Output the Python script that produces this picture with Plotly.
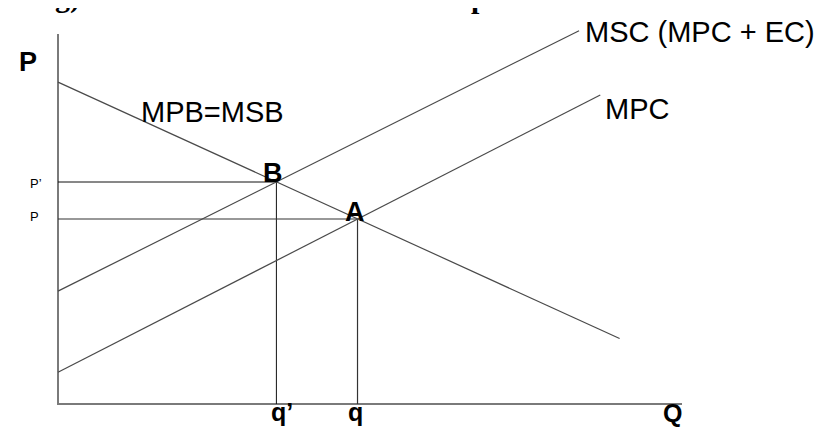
import plotly.graph_objects as go

# ---- data (economic units: Q horizontal, P vertical) ----
q_prime = 35      # q'
q_star = 48       # q
p_prime = 60      # P'
p_star = 50       # P
demand_q = [0, 90]
demand_p = [87, 17.7]
msc_q = [0, 83.5]
msc_p = [30.5, 100.9]
mpc_q = [0, 86.9]
mpc_p = [8.6, 83.5]
axis_q_max = 100
axis_p_max = 100

# ---- layout helpers: pixel <-> data mapping ----
W, H = 822, 428
X0_PX, Y0_PX = 50, 396          # origin in pixels
KX, KY = 6.24, 3.7              # pixels per unit
xr = [(0 - X0_PX) / KX, (W - X0_PX) / KX]
yr = [(Y0_PX - H) / KY, (Y0_PX - 0) / KY]

def X(px):
    return (px - X0_PX) / KX

def Y(py):
    return (Y0_PX - py) / KY

SANS = "Liberation Sans, Arial, sans-serif"
SERIF = "Liberation Serif, Times New Roman, serif"
CURVE = "#4a4a4a"

fig = go.Figure()

def line(xs, ys, color=CURVE, width=1.2):
    fig.add_trace(go.Scatter(x=xs, y=ys, mode="lines", hoverinfo="skip",
                             line=dict(color=color, width=width)))

# axes
line([0, 0, axis_q_max], [axis_p_max, 0, 0], color="#7a7a7a", width=2)
# guides
line([0, q_prime, q_prime], [p_prime, p_prime, 0], color="#111111", width=1)
line([0, q_star, q_star], [p_star, p_star, 0], color="#333333", width=1.2)
# curves
line(demand_q, demand_p)
line(msc_q, msc_p)
line(mpc_q, mpc_p)

ann = []
def txt(text, px, py, size, bold=False, xanchor="center", family=SANS):
    ann.append(dict(x=X(px), y=Y(py), xref="x", yref="y", text=f"<b>{text}</b>" if bold else text,
                    showarrow=False, xanchor=xanchor, yanchor="middle",
                    font=dict(family=family, size=size, color="black")))

txt("P", 20, 54, 27, bold=True)
txt("MPB=MSB", 131, 104, 29, xanchor="left")
txt("MSC (MPC + EC)", 575, 24, 29, xanchor="left")
txt("MPC", 595, 101, 29, xanchor="left")
txt("B", 265, 165, 27, bold=True)
txt("A", 347, 204, 27, bold=True)
txt("P’", 20, 175, 13, xanchor="left")
txt("P", 20, 208, 13, xanchor="left")
txt("q’", 274, 404, 25, bold=True)
txt("q", 347, 404, 25, bold=True)
txt("Q", 664, 405, 25, bold=True)

# clipped heading at the very top of the page
for t, px in [("g)", 45), ("production", 461)]:
    ann.append(dict(x=px / W, y=1 - 8 / H, xref="paper", yref="paper", text=f"<b>{t}</b>",
                    showarrow=False, xanchor="left", yanchor="bottom",
                    font=dict(family=SERIF, size=30, color="black")))

fig.update_layout(
    width=W, height=H, margin=dict(l=0, r=0, t=0, b=0),
    paper_bgcolor="white", plot_bgcolor="white", showlegend=False,
    xaxis=dict(range=xr, visible=False, fixedrange=True),
    yaxis=dict(range=yr, visible=False, fixedrange=True),
    annotations=ann,
)

fig.write_html("out.html")
